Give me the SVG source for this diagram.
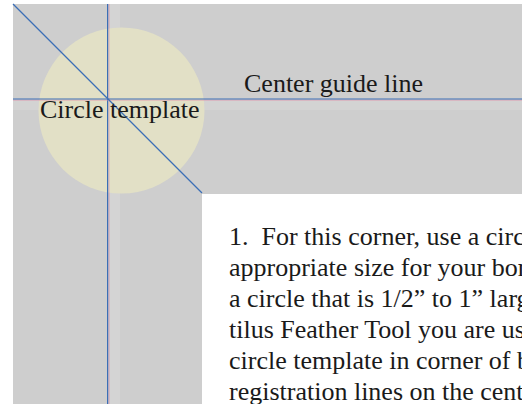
<svg xmlns="http://www.w3.org/2000/svg" width="522" height="404" viewBox="0 0 522 404">
<style>
.t{font-family:"Liberation Serif","Times New Roman",serif;font-size:26px;fill:#1a1a1a}
.blue{stroke:#3b6fb6;stroke-width:1.2;fill:none}
.pink{stroke:#e08aa8;stroke-width:0.8;fill:none;opacity:0.7}
</style>
<rect x="0" y="0" width="522" height="404" fill="#ffffff"/>
<g id="background">
<path d="M13 4 H522 V194 H202 V404 H13 Z" fill="#cecece"/>
<rect x="110" y="4" width="10" height="400" fill="#d8d8d8" opacity="0.6"/>
<rect x="13" y="100" width="509" height="10" fill="#d8d8d8" opacity="0.5"/>
</g>
<g id="circle-template">
<circle cx="121.5" cy="110.5" r="83" fill="#e2e0c6"/>
</g>
<g id="connectors">
<line class="pink" x1="109" y1="4" x2="109" y2="404"/>
<line class="blue" x1="107.6" y1="4" x2="107.6" y2="404"/>
<line class="pink" x1="13" y1="100.2" x2="522" y2="100.2"/>
<line class="blue" x1="13" y1="99" x2="522" y2="99"/>
<line class="blue" x1="13" y1="4" x2="202" y2="193" stroke="#4a86c0"/>
</g>
<g id="labels">
<text class="t" x="40" y="118">Circle template</text>
<text class="t" x="244" y="92">Center guide line</text>
</g>
<g id="body-text">
<text class="t" x="229" y="245" xml:space="preserve">1.  For this corner, use a circ</text>
<text class="t" x="229" y="276">appropriate size for your bor</text>
<text class="t" x="229" y="307">a circle that is 1/2” to 1” larg</text>
<text class="t" x="229" y="338">tilus Feather Tool you are us</text>
<text class="t" x="229" y="369">circle template in corner of b</text>
<text class="t" x="229" y="400">registration lines on the cent</text>
</g>
</svg>
